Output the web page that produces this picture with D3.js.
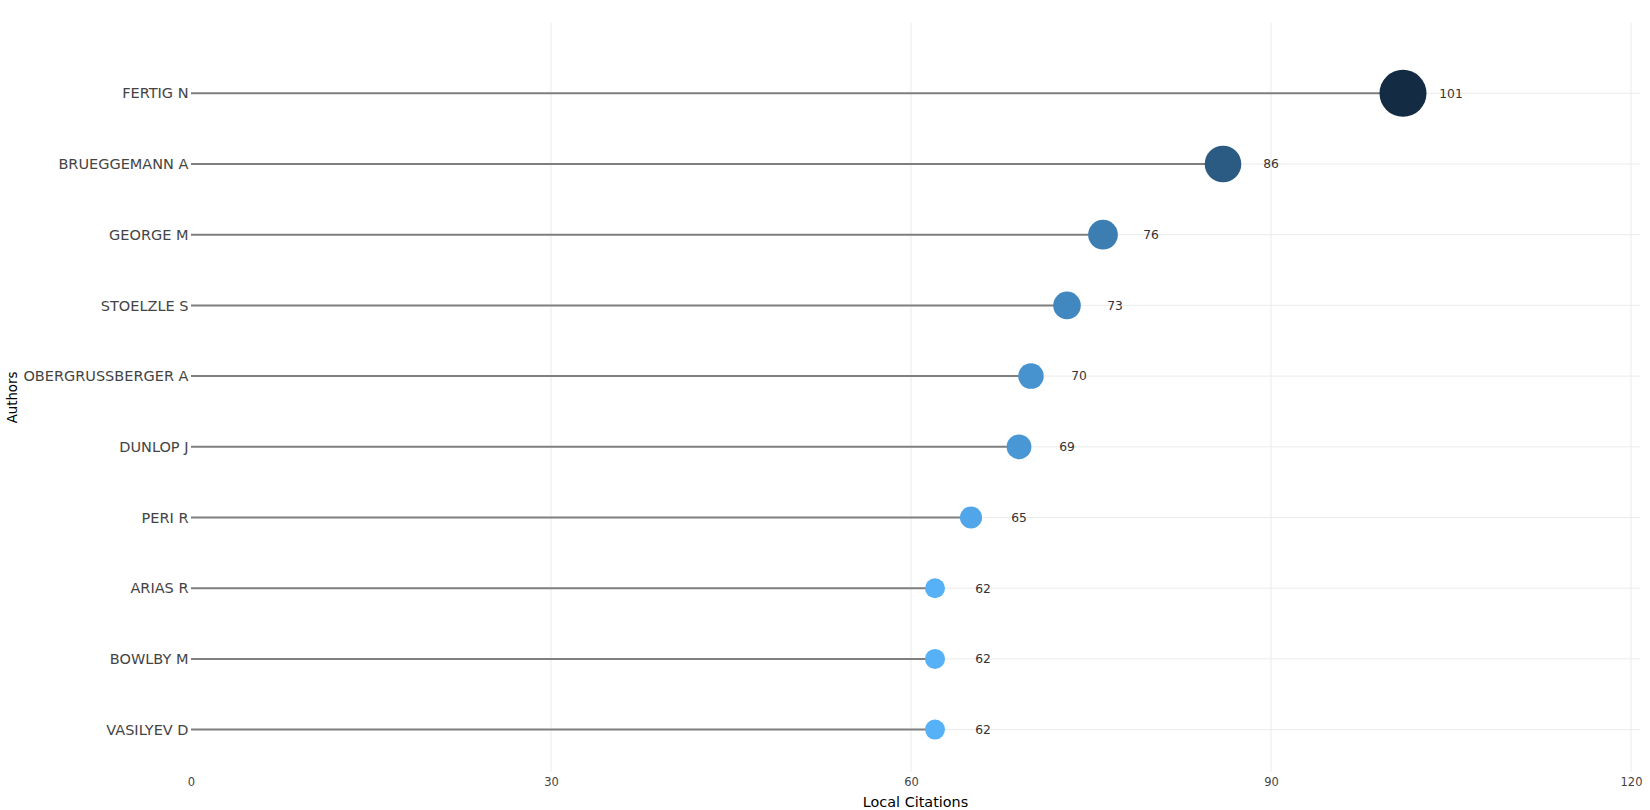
<!DOCTYPE html>
<html>
<head>
<meta charset="utf-8">
<script src="https://cdn.jsdelivr.net/npm/d3@7"></script>
<style>
  html, body { margin: 0; padding: 0; background: #fff; }
  svg { display: block; }
  text { font-family: "DejaVu Sans", Verdana, sans-serif; }
</style>
</head>
<body>
<svg id="chart" width="1650" height="810"></svg>
<script>
const authors = ["FERTIG N", "BRUEGGEMANN A", "GEORGE M", "STOELZLE S", "OBERGRUSSBERGER A",
                 "DUNLOP J", "PERI R", "ARIAS R", "BOWLBY M", "VASILYEV D"];
const citations = [101, 86, 76, 73, 70, 69, 65, 62, 62, 62];
const xTicks = [0, 30, 60, 90, 120];
const xTitle = "Local Citations";
const yTitle = "Authors";

(function () {
const svg = d3.select("#chart");
const pLeft = 191, pRight = 1640, pTop = 23, pBottom = 772;

const x = d3.scaleLinear().domain([0, 120.75]).range([pLeft, pRight]);
const y = d3.scalePoint().domain(authors).range([93.3, 729.6]);
const r = d3.scaleLinear().domain([62, 101]).range([10, 23.5]);
const color = d3.scaleLinear().domain([62, 101]).range(["#56B1F7", "#132B43"]).interpolate(d3.interpolateLab);

const data = authors.map((a, i) => ({ author: a, value: citations[i] }));

// grid (no line at zero)
const grid = svg.append("g");
grid.selectAll("line.v").data(xTicks.filter(t => t !== 0)).join("line").attr("class", "v")
  .attr("x1", d => x(d)).attr("x2", d => x(d))
  .attr("y1", pTop).attr("y2", pBottom)
  .attr("stroke", "#ebebeb").attr("stroke-width", 1);
grid.selectAll("line.h").data(authors).join("line").attr("class", "h")
  .attr("x1", pLeft).attr("x2", pRight)
  .attr("y1", d => y(d)).attr("y2", d => y(d))
  .attr("stroke", "#ebebeb").attr("stroke-width", 1);

// axes
const xAxis = d3.axisBottom(x).tickValues(xTicks).tickSize(0).tickPadding(0);
const gx = svg.append("g").attr("transform", `translate(0,${pBottom})`).call(xAxis);
gx.select(".domain").remove();
gx.selectAll("text").attr("y", 14).attr("dy", 0).attr("fill", "#444").style("font-size", "11.5px")
  .style("font-family", "'DejaVu Sans', sans-serif");

const yAxis = d3.axisLeft(y).tickSize(0).tickPadding(2.5);
const gy = svg.append("g").attr("transform", `translate(${pLeft},0)`).call(yAxis);
gy.select(".domain").remove();
gy.selectAll("text").attr("fill", "#444").style("font-size", "14.5px")
  .style("font-family", "'DejaVu Sans', sans-serif");

// stems
svg.append("g").selectAll("line").data(data).join("line")
  .attr("x1", x(0)).attr("x2", d => x(d.value))
  .attr("y1", d => y(d.author)).attr("y2", d => y(d.author))
  .attr("stroke", "#7f7f7f").attr("stroke-width", 2);

// dots
svg.append("g").selectAll("circle").data(data).join("circle")
  .attr("cx", d => x(d.value)).attr("cy", d => y(d.author))
  .attr("r", d => r(d.value)).attr("fill", d => color(d.value));

// value labels
svg.append("g").selectAll("text").data(data).join("text")
  .attr("x", d => x(d.value + 4)).attr("y", d => y(d.author))
  .attr("dy", "0.35em").attr("text-anchor", "middle")
  .attr("fill", "#333").style("font-size", "12.3px")
  .text(d => d.value);

// titles
svg.append("text").attr("x", (pLeft + pRight) / 2).attr("y", 806.5)
  .attr("text-anchor", "middle").attr("fill", "#000").style("font-size", "14.4px")
  .text(xTitle);
svg.append("text").attr("transform", `translate(17,${(pTop + pBottom) / 2}) rotate(-90)`)
  .attr("text-anchor", "middle").attr("fill", "#000").style("font-size", "13.3px")
  .text(yTitle);
})();
</script>
</body>
</html>
